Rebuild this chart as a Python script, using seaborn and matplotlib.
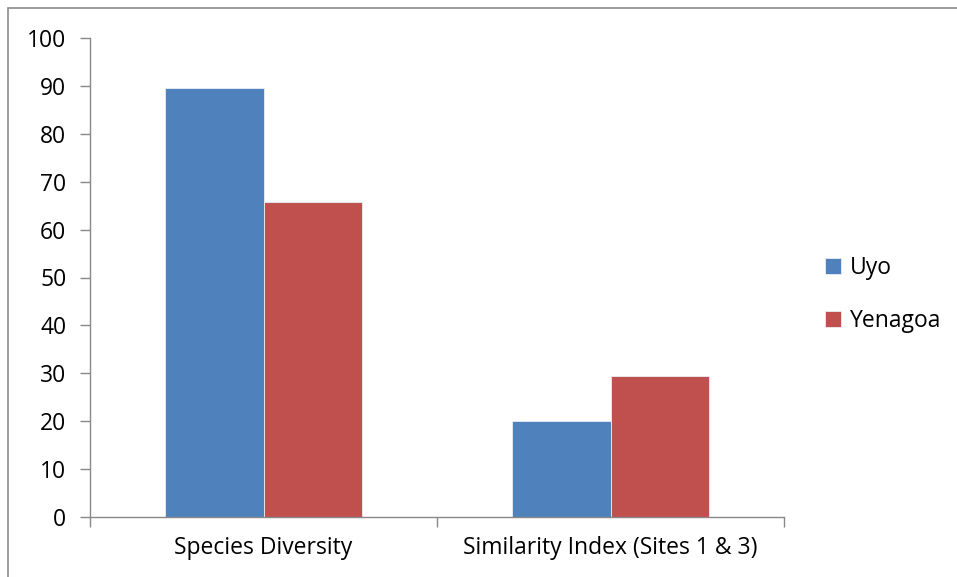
import matplotlib
matplotlib.use("Agg")
import matplotlib.pyplot as plt
import seaborn as sns
import pandas as pd
from matplotlib.patches import Rectangle

categories = ["Species Diversity", "Similarity Index (Sites 1 & 3)"]
series = ["Uyo", "Yenagoa"]
uyo = [89.5, 20.0]
yenagoa = [65.8, 29.5]
colors = ["#4F81BD", "#C0504D"]
yticks = list(range(0, 101, 10))

df = pd.DataFrame({
    "category": categories * 2,
    "series": [series[0]] * 2 + [series[1]] * 2,
    "value": uyo + yenagoa,
})

sns.set_theme(style="white")
plt.rcParams["font.family"] = ["Open Sans", "DejaVu Sans"]
plt.rcParams["text.color"] = "black"
plt.rcParams["xtick.color"] = "black"
plt.rcParams["ytick.color"] = "black"

fig = plt.figure(figsize=(9.57, 5.77), dpi=100)
ax = fig.add_axes([90 / 957, 1 - 517 / 577, (784 - 90) / 957, (517 - 38) / 577])

sns.barplot(data=df, x="category", y="value", hue="series", palette=colors,
            width=0.57, ax=ax, saturation=1, linewidth=0.6, edgecolor="#e8eef6")

ax.set_xlim(-0.5, 1.5)
ax.set_ylim(0, 100)
ax.set_yticks(yticks)
ax.set_yticklabels([str(t) for t in yticks], fontsize=16.5)
ax.set_xticks([-0.5, 0.5, 1.5], minor=False)
ax.set_xticklabels([])
ax.set_xticks([0, 1], minor=True)
ax.set_xticklabels(categories, minor=True, fontsize=16.5)
ax.tick_params(axis="x", which="minor", length=0, pad=14)
ax.tick_params(axis="x", which="major", length=7, width=1, color="#888888", direction="out", bottom=True)
ax.tick_params(axis="y", length=7, width=1, color="#888888", labelcolor="black", direction="out", left=True, pad=10)
ax.tick_params(axis="x", labelcolor="black", which="both")
ax.set_xlabel("")
ax.set_ylabel("")
for s in ["top", "right"]:
    ax.spines[s].set_visible(False)
for s in ["left", "bottom"]:
    ax.spines[s].set_color("#888888")
    ax.spines[s].set_linewidth(1)

handles, labels = ax.get_legend_handles_labels()
leg = ax.legend(handles, labels, loc="center left", bbox_to_anchor=(1.03, 0.465), frameon=False,
                fontsize=16.5, handlelength=0.7, handleheight=0.7, handletextpad=0.35, labelspacing=1.25)
for t in leg.get_texts():
    t.set_color("black")

fig.patches.append(Rectangle((8 / 957, -0.05), 1.2, 1 - 8 / 577 + 0.05, transform=fig.transFigure,
                             fill=False, edgecolor="#8c8c8c", linewidth=1.2))

fig.savefig("out.png", dpi=100)
